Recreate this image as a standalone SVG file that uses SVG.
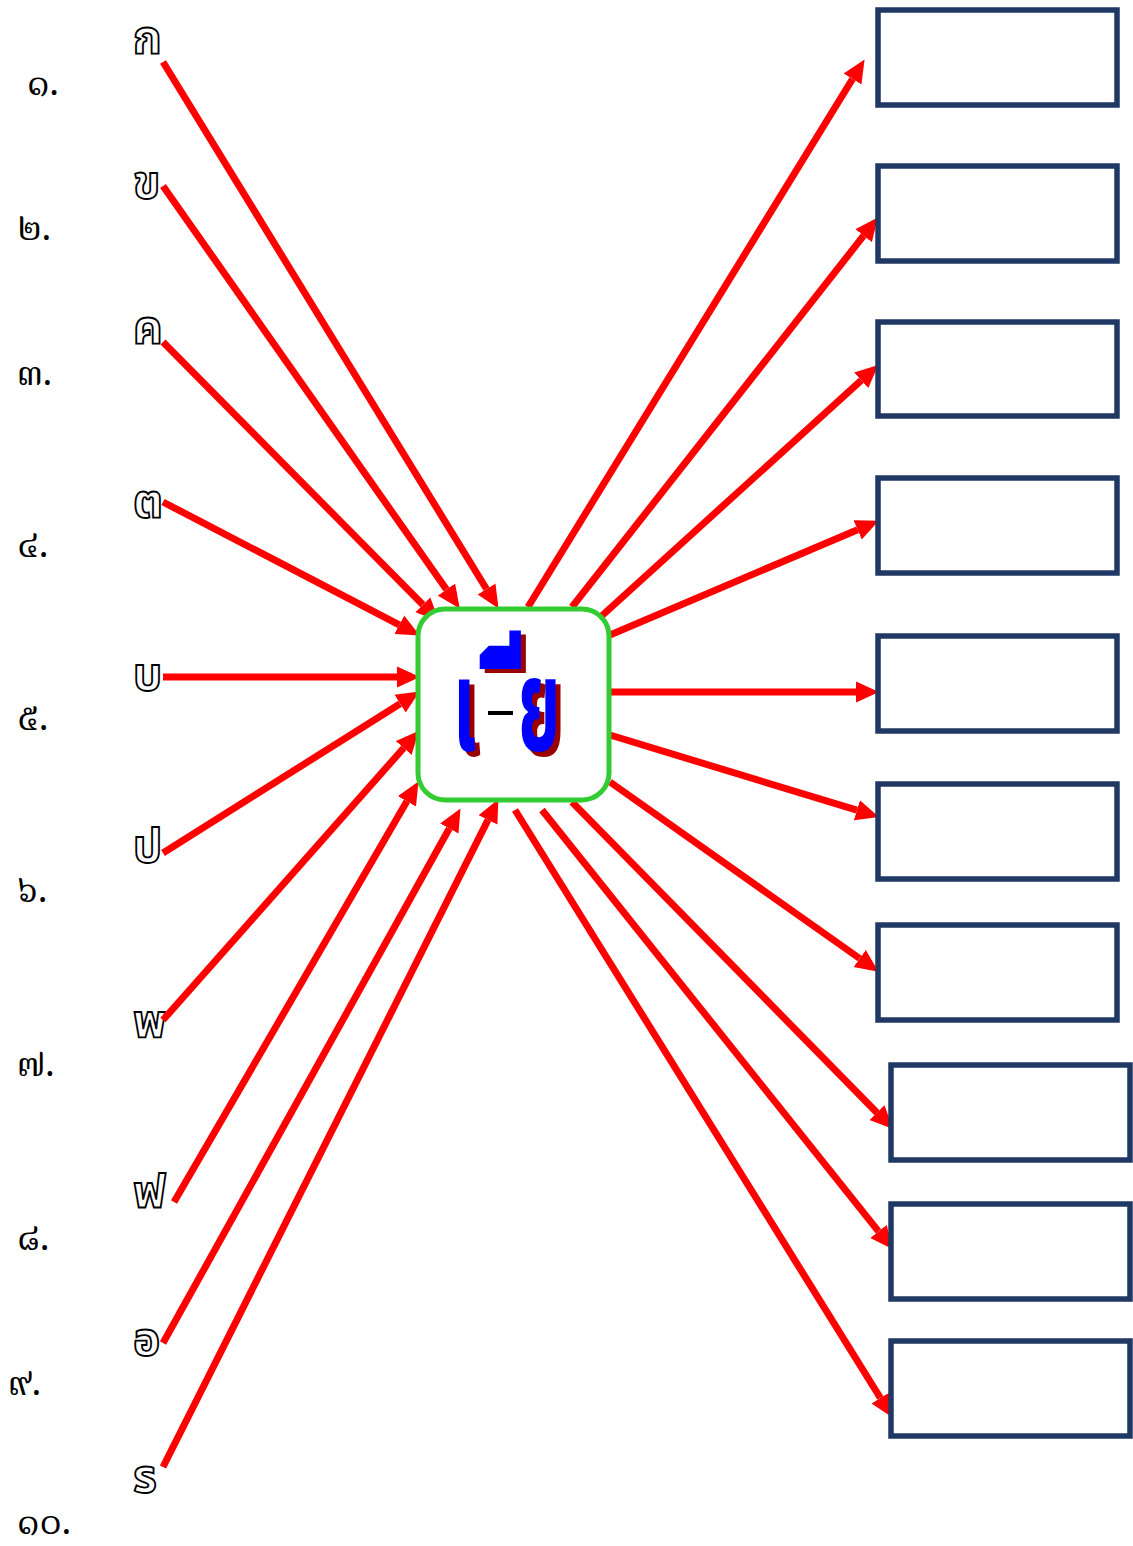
<svg xmlns="http://www.w3.org/2000/svg" width="1133" height="1546" viewBox="0 0 1133 1546">
<style>
.num{font-family:"Noto Serif Thai","Liberation Serif",serif;font-size:37px;fill:#000}
.let{font-family:"Noto Sans Thai","Noto Sans","DejaVu Sans",sans-serif;font-size:46px;font-weight:bold;fill:#fff;stroke:#000;stroke-width:1.8}
.box{fill:#fff;stroke:#203864;stroke-width:5.5}
.arr{stroke:#ff0000;stroke-width:7;fill:none;marker-end:url(#ah)}
.big{font-family:"Noto Sans Thai","Noto Sans","DejaVu Sans",sans-serif;font-size:100px;font-weight:bold}
</style>
<defs>
<marker id="ah" markerUnits="userSpaceOnUse" markerWidth="24" markerHeight="22" refX="0" refY="11" orient="auto" viewBox="0 0 24 22">
<path d="M0,0.5 L23,11 L0,21.5 z" fill="#ff0000"/>
</marker>
</defs>
<rect width="1133" height="1546" fill="#fff"/>
<g id="numbers">
<text class="num" x="27" y="95">๑.</text>
<text class="num" x="17" y="240">๒.</text>
<text class="num" x="17" y="385">๓.</text>
<text class="num" x="17" y="557">๔.</text>
<text class="num" x="17" y="730">๕.</text>
<text class="num" x="17" y="902">๖.</text>
<text class="num" x="17" y="1076">๗.</text>
<text class="num" x="17" y="1250">๘.</text>
<text class="num" x="8" y="1395">๙.</text>
<text class="num" x="17" y="1534">๑๐.</text>
</g>
<g id="letters">
<text id="n-ko" class="let" x="133" y="53">ก</text>
<text id="n-kho" class="let" x="133" y="198">ข</text>
<text id="n-kho2" class="let" x="133" y="343">ค</text>
<text id="n-to" class="let" x="133" y="517">ต</text>
<text id="n-bo" class="let" x="133" y="690">บ</text>
<text id="n-po" class="let" x="133" y="862">ป</text>
<text id="n-pho" class="let" x="133" y="1037">พ</text>
<text id="n-fo" class="let" x="133" y="1208">ฟ</text>
<text id="n-o" class="let" x="133" y="1355">อ</text>
<text id="n-ro" class="let" x="133" y="1492">ร</text>
</g>
<g id="connectors">
<line class="arr" x1="163" y1="62" x2="486.5" y2="589"/>
<line class="arr" x1="163" y1="186" x2="446.5" y2="589.6"/>
<line class="arr" x1="163" y1="342" x2="422.9" y2="604.8"/>
<line class="arr" x1="163" y1="502" x2="399.3" y2="624.8"/>
<line class="arr" x1="163" y1="677" x2="397" y2="677"/>
<line class="arr" x1="163" y1="853" x2="400.1" y2="703.7"/>
<line class="arr" x1="163" y1="1020" x2="403.7" y2="748"/>
<line class="arr" x1="174" y1="1202" x2="406.9" y2="801.3"/>
<line class="arr" x1="163" y1="1343" x2="449.3" y2="828.5"/>
<line class="arr" x1="163" y1="1467" x2="488" y2="819.9"/>
<line class="arr" x1="528" y1="607" x2="852.5" y2="79"/>
<line class="arr" x1="572" y1="607" x2="863.6" y2="235.7"/>
<line class="arr" x1="595" y1="622" x2="861.2" y2="380.4"/>
<line class="arr" x1="610" y1="635" x2="857.6" y2="529.8"/>
<line class="arr" x1="610" y1="692" x2="856" y2="692"/>
<line class="arr" x1="610" y1="735" x2="856.9" y2="810.2"/>
<line class="arr" x1="610" y1="782" x2="859.7" y2="958.5"/>
<line class="arr" x1="572" y1="802" x2="877" y2="1112.7"/>
<line class="arr" x1="542" y1="810" x2="878.5" y2="1231.4"/>
<line class="arr" x1="515" y1="810" x2="880.4" y2="1398"/>
</g>
<g id="center">
<rect x="418" y="609" width="191" height="191" rx="27" fill="#fff" stroke="#33cc33" stroke-width="5"/>
<g fill="#990000">
<text class="big" transform="translate(458,755) scale(0.7,1.3)">เ</text>
<text class="big" transform="translate(523,755) scale(0.68,1.3)">ย</text>
<text class="big" transform="translate(533,811) scale(0.9,2.2)">ี</text>
</g>
<g fill="#0000ff">
<text class="big" transform="translate(453,750) scale(0.7,1.3)">เ</text>
<text class="big" transform="translate(518,750) scale(0.68,1.3)">ย</text>
<text class="big" transform="translate(528,807) scale(0.9,2.2)">ี</text>
</g>
<rect x="488" y="711" width="25" height="4" fill="#000"/>
</g>
<g id="boxes">
<rect id="b1" class="box" x="878" y="10" width="239" height="95"/>
<rect id="b2" class="box" x="878" y="166" width="239" height="95"/>
<rect id="b3" class="box" x="878" y="322" width="239" height="94"/>
<rect id="b4" class="box" x="878" y="478" width="239" height="95"/>
<rect id="b5" class="box" x="878" y="636" width="239" height="95"/>
<rect id="b6" class="box" x="878" y="784" width="239" height="95"/>
<rect id="b7" class="box" x="878" y="925" width="239" height="95"/>
<rect id="b8" class="box" x="891" y="1065" width="239" height="95"/>
<rect id="b9" class="box" x="891" y="1204" width="239" height="95"/>
<rect id="b10" class="box" x="891" y="1341" width="239" height="95"/>
</g>
</svg>
